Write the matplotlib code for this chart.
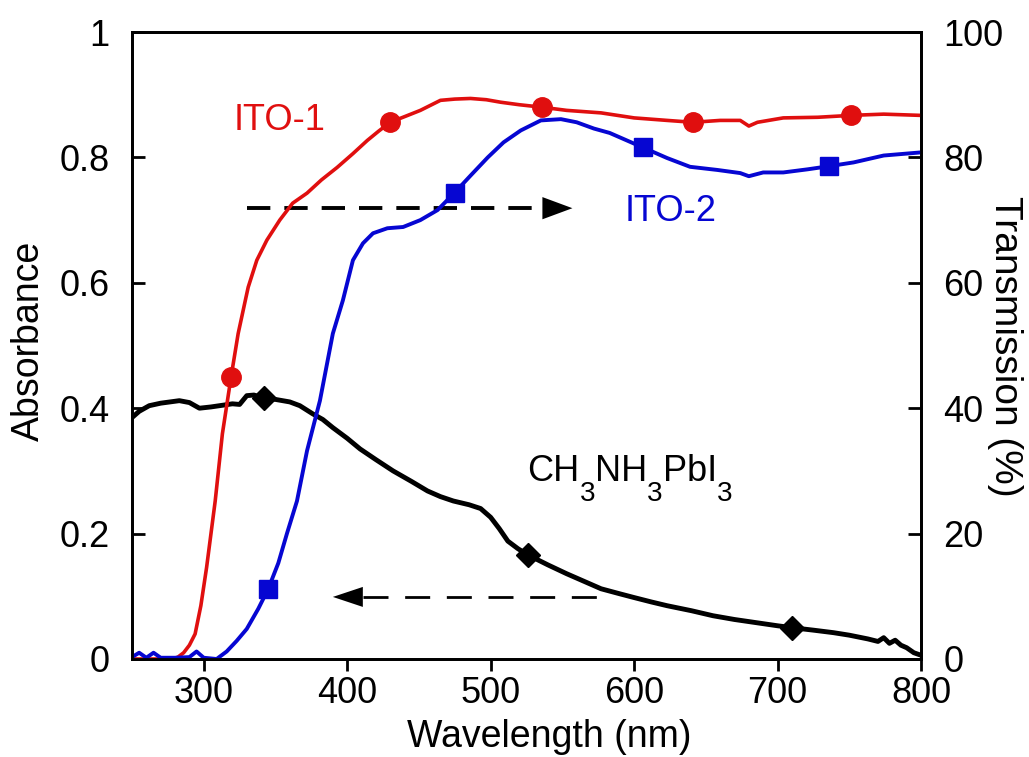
import numpy as np
import matplotlib
matplotlib.use('Agg')
import matplotlib.pyplot as plt
from matplotlib.transforms import offset_copy

plt.rcParams['font.family'] = ['Liberation Sans', 'DejaVu Sans']

# CH3NH3PbI3 absorbance (left axis)
wl_abs = [250, 255, 262, 270, 283, 290, 297, 305, 311, 320, 325, 330, 335, 342, 350,
          360, 367, 376, 383, 390, 400, 409, 420, 432, 445, 456, 465, 474, 485, 493,
          500, 506, 512, 519, 526, 540, 553, 565, 577, 590, 600, 612, 623, 640, 655,
          670, 685, 700, 710, 725, 739, 750, 763, 770, 774, 778, 782, 786, 790, 795, 800]
absorb = [0.385, 0.395, 0.404, 0.408, 0.412, 0.409, 0.400, 0.402, 0.404, 0.407, 0.406,
          0.420, 0.421, 0.416, 0.414, 0.410, 0.404, 0.391, 0.382, 0.369, 0.352, 0.335,
          0.318, 0.300, 0.283, 0.268, 0.259, 0.252, 0.246, 0.240, 0.226, 0.208, 0.188,
          0.176, 0.166, 0.150, 0.136, 0.124, 0.112, 0.104, 0.098, 0.091, 0.085, 0.077,
          0.069, 0.063, 0.058, 0.053, 0.050, 0.046, 0.042, 0.038, 0.032, 0.028, 0.034,
          0.025, 0.030, 0.022, 0.018, 0.010, 0.006]
abs_marks = [342, 526, 710]

# ITO-1 transmission (right axis, %)
wl_ito1 = [250, 270, 278, 282, 286, 290, 294, 298, 302, 308, 313, 319, 324, 329, 331,
           337, 344, 353, 362, 372, 382, 393, 404, 414, 422, 430, 440, 451, 465, 475,
           486, 497, 507, 520, 536, 553, 577, 600, 623, 641, 660, 674, 680, 686, 704,
           728, 751, 774, 800]
t_ito1 = [0, 0, 0, 0.3, 1.0, 2.2, 4.0, 8.5, 14.6, 25.2, 35.9, 44.9, 51.9, 57.2, 59.3,
          63.6, 66.8, 70.0, 72.7, 74.3, 76.4, 78.4, 80.6, 82.7, 84.2, 85.6, 86.5, 87.5,
          89.1, 89.3, 89.4, 89.2, 88.8, 88.4, 88.0, 87.5, 87.1, 86.3, 85.9, 85.6, 85.9,
          85.9, 85.0, 85.6, 86.3, 86.4, 86.7, 86.9, 86.7]
ito1_marks = [319, 430, 536, 641, 751]

# ITO-2 transmission (right axis, %)
wl_ito2 = [250, 255, 260, 265, 270, 280, 290, 295, 300, 309, 316, 323, 330, 338, 345,
           352, 358, 365, 372, 381, 390, 397, 404, 411, 418, 428, 439, 451, 463, 475,
           486, 498, 509, 521, 535, 549, 560, 572, 583, 606, 623, 639, 658, 674, 680,
           690, 704, 721, 736, 753, 774, 800]
t_ito2 = [0.3, 1.0, 0.2, 1.0, 0.2, 0.2, 0.3, 1.2, 0.2, 0, 1.2, 2.9, 4.8, 8.0, 11.2,
          15.3, 20.0, 25.2, 33.2, 41.2, 51.9, 57.2, 63.6, 66.3, 67.9, 68.7, 68.9, 70.0,
          71.6, 74.4, 77.1, 80.0, 82.4, 84.3, 85.9, 86.1, 85.6, 84.6, 83.9, 81.6, 79.9,
          78.5, 78.0, 77.5, 77.0, 77.6, 77.6, 78.1, 78.6, 79.2, 80.3, 80.8]
ito2_marks = [345, 475, 606, 736]

red = '#e00f0f'
blue = '#0606d2'

fig = plt.figure(figsize=(10.29, 7.57), dpi=100)
ax = fig.add_axes([132 / 1029, 1 - 659 / 757, 789 / 1029, 627 / 757])
ax2 = ax.twinx()

ax.plot(wl_abs, absorb, color='black', lw=3.5, marker='D', ms=12,
        markevery=[wl_abs.index(w) for w in abs_marks], zorder=3)
ax2.plot(wl_ito1, t_ito1, color=red, lw=2.6, marker='o', ms=14,
         markevery=[wl_ito1.index(w) for w in ito1_marks])
ax2.plot(wl_ito2, t_ito2, color=blue, lw=2.8, marker='s', ms=13.5,
         markevery=[wl_ito2.index(w) for w in ito2_marks])

ax.set_xlim(250, 800)
ax.set_ylim(0, 1)
ax2.set_ylim(0, 100)
ax.set_xticks([300, 400, 500, 600, 700, 800])
ax.set_yticks([0, 0.2, 0.4, 0.6, 0.8, 1])
ax.set_yticklabels(['0', '0.2', '0.4', '0.6', '0.8', '1'])
ax2.set_yticks([0, 20, 40, 60, 80, 100])

for a in (ax, ax2):
    for s in a.spines.values():
        s.set_linewidth(2)
ax.tick_params(axis='x', direction='out', length=8.5, width=2, labelsize=26, pad=4, top=False)
ax.tick_params(axis='y', direction='in', length=9.5, width=2, labelsize=26, pad=16, right=False)
ax2.tick_params(axis='y', direction='in', length=9.5, width=2, labelsize=26, pad=16)

# dashed arrows
ax.plot([330, 536], [0.719, 0.719], color='black', lw=2.8, ls=(0, (6, 3.6)))
ax.annotate('', xy=(557, 0.719), xytext=(536, 0.719),
            arrowprops=dict(arrowstyle='-|>,head_length=1.08,head_width=0.4',
                            mutation_scale=20, color='black', lw=0, shrinkA=0, shrinkB=0))
ax.plot([411, 574], [0.099, 0.099], color='black', lw=2.0, ls=(0, (9, 6)))
ax.annotate('', xy=(390, 0.099), xytext=(411, 0.099),
            arrowprops=dict(arrowstyle='-|>,head_length=1.08,head_width=0.36',
                            mutation_scale=20, color='black', lw=0, shrinkA=0, shrinkB=0))

ax.text(352.6, 0.859, 'ITO-1', color=red, fontsize=26, ha='center', va='center')
ax.text(625.4, 0.714, 'ITO-2', color=blue, fontsize=26, ha='center', va='center')

# CH3NH3PbI3 with deep subscripts, pieced together
renderer = fig.canvas.get_renderer()
pieces = [('CH', False), ('3', True), ('NH', False), ('3', True), ('PbI', False), ('3', True)]
x_off = 0
for s, sub in pieces:
    tr = offset_copy(ax.transData, fig=fig, x=x_off, y=-20 if sub else 0, units='dots')
    t = ax.text(525.6, 0.284, s, fontsize=20 if sub else 26, transform=tr,
                ha='left', va='baseline')
    x_off += t.get_window_extent(renderer).width

fig.text(549 / 1029, 10 / 757, 'Wavelength (nm)', fontsize=27, ha='center', va='baseline')
fig.text(29 / 1029, 1 - 341 / 757, 'Absorbance', fontsize=27, ha='center', va='center',
         rotation=90)
fig.text(1005 / 1029, 1 - 346 / 757, 'Transmission (%)', fontsize=28, ha='center',
         va='center', rotation=270)

fig.savefig('out.png', dpi=100)
